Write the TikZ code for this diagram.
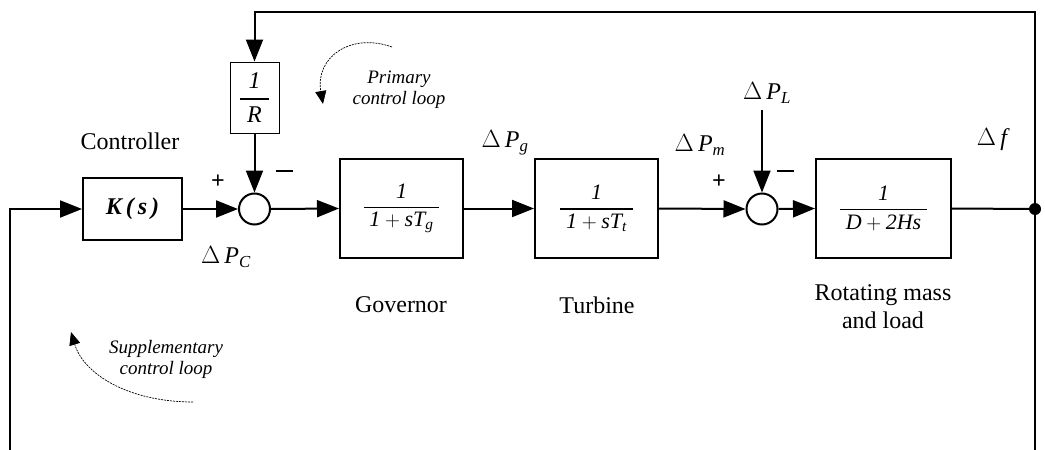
\documentclass[tikz,border=0pt]{standalone}
\usepackage{amsmath}
\usepackage{fontspec}
\setmainfont{Liberation Serif}
\usetikzlibrary{arrows.meta}
\newcommand{\tfr}[2]{\genfrac{}{}{1.4pt}{0}{#1}{#2}}
\begin{document}
\begin{tikzpicture}[x=1pt,y=-1pt,
  blk/.style={draw,line width=2pt,inner sep=0pt,font=\fontsize{22}{24}\selectfont},
  sumc/.style={draw,circle,line width=2pt,minimum size=31pt,inner sep=0pt},
  conn/.style={line width=2pt},
  arr/.style={conn,-{Triangle[length=22pt,width=17pt]}},
  lbl/.style={font=\fontsize{24}{28}\selectfont},
  sgn/.style={font=\fontsize{24}{26}\selectfont\bfseries},
  note/.style={font=\fontsize{19}{21}\selectfont\itshape,align=center},
  loop/.style={line width=0.7pt,dash pattern=on 2pt off 1pt,-{Triangle[length=13pt,width=11pt]},black}
]
\useasboundingbox (0,0) rectangle (1045,450);
% blocks
\node[blk,minimum width=99pt,minimum height=62pt,font=\fontsize{24}{26}\selectfont] (K) at (132.5,209)
  {\bfseries\itshape K\,(\,s\,)};
\node[sumc] (s1) at (254.5,209) {};
\node[blk,line width=1pt,minimum width=49pt,minimum height=71pt,font=\fontsize{24}{26}\selectfont] (R) at (254.5,97.5)
  {$\tfr{\;\mathit{1}\;}{\;\mathit{R}\;}$};
\node[blk,minimum width=123pt,minimum height=99pt] (gov) at (401.5,208.5)
  {$\tfr{\mathit{1}}{\;\mathit{1}+\mathit{s}\mathit{T}_{\mathit{g}}\;}$};
\node[blk,minimum width=123pt,minimum height=99pt] (tur) at (596.5,208.5)
  {$\tfr{\mathit{1}}{\;\mathit{1}+\mathit{s}\mathit{T}_{\mathit{t}}\;}$};
\node[sumc] (s2) at (762,209) {};
\node[blk,minimum width=135pt,minimum height=99pt] (rm) at (883.5,208.5)
  {$\tfr{\mathit{1}}{\;\mathit{D}+\mathit{2}\mathit{H}\mathit{s}\;}$};
% coordinates
\coordinate (in) at (10,450);
\coordinate (inc) at (10,209);
\coordinate (dot) at (1035,209);
\coordinate (tr) at (1035,12);
\coordinate (tl) at (254.5,12);
\coordinate (br) at (1035,450);
\coordinate (pl) at (762,110);
% connectors
\draw[arr] (in) -- (inc) -- (K.west);
\draw[arr] (K.east) -- (s1.west);
\draw[arr] (s1.east) -- (gov.west);
\draw[arr] (gov.east) -- (tur.west);
\draw[arr] (tur.east) -- (s2.west);
\draw[arr] (s2.east) -- (rm.west);
\draw[conn] (rm.east) -- (dot);
\draw[arr] (dot) -- (tr) -- (tl) -- (R.north);
\draw[conn] (dot) -- (br);
\draw[arr] (R.south) -- (s1.north);
\draw[arr] (pl) -- (s2.north);
\fill (dot) circle (6pt);
% signs
\node[sgn] (p1) at (218,182) {+};
\node[inner sep=0pt] (m1) at (284,171) {\rule{17pt}{2.4pt}};
\node[sgn] (p2) at (719,182) {+};
\node[inner sep=0pt] (m2) at (785,171) {\rule{17pt}{2.4pt}};
% labels
\node[lbl] (ctl) at (130,141) {Controller};
\node[lbl] (dpc) at (226,257) {$\Delta\,\mathit{P}_{\mathit{C}}$};
\node[lbl] (dpg) at (505,143) {$\Delta\,\mathit{P}_{\mathit{g}}$};
\node[lbl] (dpm) at (700,145) {$\Delta\,\mathit{P}_{\mathit{m}}$};
\node[lbl] (dpl) at (767,93) {$\Delta\,\mathit{P}_{\mathit{L}}$};
\node[lbl] (df) at (992,140) {$\Delta\,\mathit{f}$};
\node[lbl] (lgov) at (401,305) {Governor};
\node[lbl] (ltur) at (597,305) {Turbine};
\node[lbl,align=center] (lrm) at (883,307) {Rotating mass\\and load};
\node[note] (prim) at (399,90) {Primary\\control loop};
\node[note] (supp) at (166,359) {Supplementary\\control loop};
% loop arrows
\draw[loop] (392,47) .. controls (350,32) and (315,58) .. (323,104);
\draw[loop] (193,402) .. controls (130,402) and (84,375) .. (71,332);
\end{tikzpicture}
\end{document}
